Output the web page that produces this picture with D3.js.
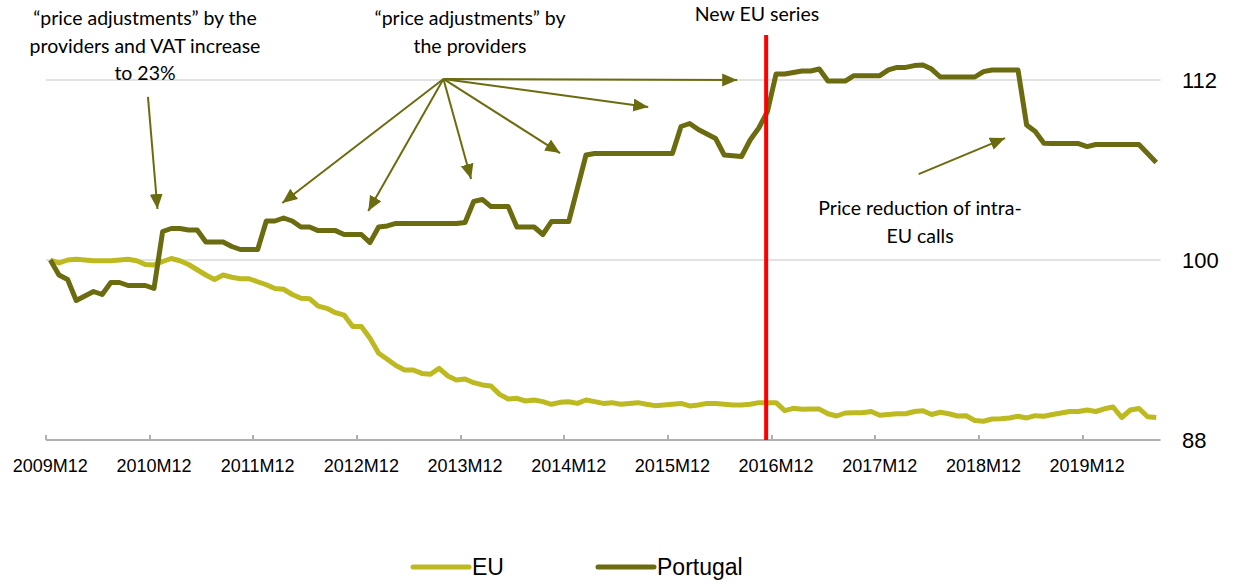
<!DOCTYPE html>
<html>
<head>
<meta charset="utf-8">
<script src="https://cdn.jsdelivr.net/npm/d3@7"></script>
<style>
  body { margin: 0; background: #fff; }
  svg text { font-family: 'Liberation Sans', Arial, sans-serif; }
  .note { font-family: Lato, 'Open Sans', sans-serif; font-size: 19.5px; fill: #000; }
</style>
</head>
<body>
<div id="chart"></div>
<script>
// monthly index, 2009M12 = 100
var tickLabels = ['2009M12','2010M12','2011M12','2012M12','2013M12','2014M12',
                  '2015M12','2016M12','2017M12','2018M12','2019M12']
var yTicks = [88, 100, 112]

var euValues = [
  100, 99.8, 100.0, 100.05, 100.0, 99.95, 99.95, 99.95, 100.0, 100.05, 99.95, 99.7,
  99.67, 99.9, 100.1, 99.95, 99.7, 99.35, 99.0, 98.7, 99.0, 98.85, 98.75, 98.75,
  98.55, 98.35, 98.1, 98.05, 97.7, 97.45, 97.42, 96.93, 96.78, 96.49, 96.33, 95.56,
  95.56, 94.78, 93.78, 93.38, 92.96, 92.67, 92.67, 92.44, 92.38, 92.78, 92.27, 92.0,
  92.07, 91.82, 91.67, 91.6, 91.04, 90.73, 90.78, 90.6, 90.67, 90.56, 90.38, 90.51,
  90.55, 90.44, 90.67, 90.56, 90.44, 90.49, 90.38, 90.44, 90.49, 90.38, 90.29, 90.33,
  90.38, 90.44, 90.27, 90.33, 90.44, 90.44, 90.38, 90.33, 90.33, 90.38, 90.49, 90.49,
  90.49, 89.96, 90.11, 90.05, 90.06, 90.06, 89.75, 89.6, 89.8, 89.82, 89.82, 89.9,
  89.65, 89.7, 89.75, 89.75, 89.9, 89.95, 89.7, 89.85, 89.75, 89.6, 89.62, 89.3,
  89.25, 89.4, 89.42, 89.47, 89.58, 89.47, 89.62, 89.58, 89.7, 89.8, 89.9, 89.9,
  90.0, 89.9, 90.08, 90.2, 89.5, 90.0, 90.1, 89.55, 89.5
]

var ptValues = [
  100, 99.0, 98.7, 97.3, 97.6, 97.9, 97.7, 98.5, 98.5, 98.3, 98.3, 98.3,
  98.1, 101.9, 102.1, 102.1, 102.0, 102.0, 101.2, 101.2, 101.2, 100.9, 100.7, 100.7,
  100.7, 102.6, 102.6, 102.8, 102.6, 102.2, 102.2, 101.96, 101.96, 101.96, 101.7, 101.7,
  101.7, 101.16, 102.2, 102.27, 102.44, 102.44, 102.44, 102.44, 102.44, 102.44, 102.44, 102.44,
  102.5, 103.9, 104.04, 103.56, 103.56, 103.56, 102.2, 102.2, 102.2, 101.7, 102.56, 102.56,
  102.56, 104.78, 107.0, 107.1, 107.1, 107.1, 107.1, 107.1, 107.1, 107.1, 107.1, 107.1,
  107.1, 108.9, 109.1, 108.7, 108.4, 108.1, 107.0, 106.95, 106.9, 108.0, 108.8, 109.9,
  112.4, 112.4, 112.5, 112.6, 112.6, 112.73, 111.93, 111.93, 111.93, 112.29, 112.29, 112.29,
  112.29, 112.67, 112.84, 112.84, 112.96, 113.0, 112.73, 112.2, 112.2, 112.2, 112.2, 112.2,
  112.56, 112.67, 112.67, 112.67, 112.67, 109.0, 108.56, 107.78, 107.76, 107.76, 107.76, 107.76,
  107.56, 107.7, 107.7, 107.7, 107.7, 107.7, 107.7, 107.1, 106.5
]

// where the new EU series starts (month index)
var newSeriesAt = 82.85

// annotation arrows in data units: [fromMonth, fromValue, toMonth, toValue]
var arrows = [
  [11.3, 110.87, 12.4, 103.4],
  [45.5, 112.07, 26.85, 103.8],
  [45.5, 112.07, 36.8, 103.27],
  [45.5, 112.07, 48.7, 105.4],
  [45.5, 112.07, 59.0, 107.13],
  [45.5, 112.07, 69.2, 110.2],
  [45.5, 112.07, 79.5, 112.0],
  [100.5, 105.73, 110.5, 108.13]
]

var euColor = '#bdb920'
var ptColor = '#6b6b10'

var W = 1238, H = 584
var n = ptValues.length
var step = 8.64
var x0 = 46

var xScale = d3.scaleLinear()
  .domain([-0.5, n - 0.5])
  .range([x0, x0 + n * step])
var yScale = d3.scaleLinear()
  .domain([88, 112])
  .range([440, 80])

var svg = d3.select('#chart').append('svg')
  .attr('width', W)
  .attr('height', H)

var defs = svg.append('defs')
defs.append('marker')
  .attr('id', 'head')
  .attr('markerUnits', 'userSpaceOnUse')
  .attr('markerWidth', 16)
  .attr('markerHeight', 14)
  .attr('refX', 15)
  .attr('refY', 6.5)
  .attr('orient', 'auto')
  .append('path')
  .attr('d', 'M0,0 L15,6.5 L0,13 Z')
  .attr('fill', ptColor)

// gridlines
svg.append('g').selectAll('line')
  .data(yTicks.filter(function (d) { return d > 88 }))
  .enter().append('line')
  .attr('x1', xScale.range()[0])
  .attr('x2', xScale.range()[1])
  .attr('y1', function (d) { return yScale(d) })
  .attr('y2', function (d) { return yScale(d) })
  .attr('stroke', '#d9d9d9')
  .attr('stroke-width', 1.5)

// bottom axis, ticks between categories
var tickIdx = tickLabels.map(function (d, i) { return i * 12 })
var xAxis = svg.append('g')
xAxis.append('line')
  .attr('x1', xScale.range()[0])
  .attr('x2', xScale.range()[1])
  .attr('y1', yScale(88))
  .attr('y2', yScale(88))
  .attr('stroke', '#b0b0b0')
  .attr('stroke-width', 2)
xAxis.selectAll('.tick')
  .data(tickIdx)
  .enter().append('line')
  .attr('x1', function (d) { return Math.round(xScale(d - 0.5)) })
  .attr('x2', function (d) { return Math.round(xScale(d - 0.5)) })
  .attr('y1', yScale(88) - 5)
  .attr('y2', yScale(88))
  .attr('stroke', '#b0b0b0')
  .attr('stroke-width', 2)
xAxis.selectAll('text')
  .data(tickLabels)
  .enter().append('text')
  .attr('x', function (d, i) { return xScale(tickIdx[i]) })
  .attr('y', 472)
  .attr('text-anchor', 'middle')
  .style('font-size', '18px')
  .text(function (d) { return d })

// right axis labels
svg.append('g').selectAll('text')
  .data(yTicks)
  .enter().append('text')
  .attr('x', 1182)
  .attr('y', function (d) { return yScale(d) })
  .attr('dy', '0.36em')
  .style('font-size', '22px')
  .text(function (d) { return d })

// series
var line = d3.line()
  .x(function (d, i) { return xScale(i) })
  .y(function (d) { return yScale(d) })

svg.append('path')
  .datum(euValues)
  .attr('d', line)
  .attr('fill', 'none')
  .attr('stroke', euColor)
  .attr('stroke-width', 5)
  .attr('stroke-linejoin', 'round')

svg.append('path')
  .datum(ptValues)
  .attr('d', line)
  .attr('fill', 'none')
  .attr('stroke', ptColor)
  .attr('stroke-width', 5)
  .attr('stroke-linejoin', 'round')

// new EU series marker
svg.append('line')
  .attr('x1', xScale(newSeriesAt))
  .attr('x2', xScale(newSeriesAt))
  .attr('y1', 35)
  .attr('y2', yScale(88))
  .attr('stroke', '#ff0000')
  .attr('stroke-width', 4)

// arrows
svg.append('g').selectAll('line')
  .data(arrows)
  .enter().append('line')
  .attr('x1', function (d) { return xScale(d[0]) })
  .attr('y1', function (d) { return yScale(d[1]) })
  .attr('x2', function (d) { return xScale(d[2]) })
  .attr('y2', function (d) { return yScale(d[3]) })
  .attr('stroke', ptColor)
  .attr('stroke-width', 2)
  .attr('marker-end', 'url(#head)')

// notes
function note(lines, cx, y0) {
  var t = svg.append('text')
    .attr('class', 'note')
    .attr('text-anchor', 'middle')
  lines.forEach(function (s, i) {
    t.append('tspan')
      .attr('x', cx)
      .attr('y', y0 + i * 27.5)
      .text(s)
  })
}
note(['\u201cprice adjustments\u201d by the', 'providers and VAT increase', 'to 23%'], 145, 25)
note(['\u201cprice adjustments\u201d by', 'the providers'], 470, 25)
note(['New EU series'], 757, 21)
note(['Price reduction of intra-', 'EU calls'], 920, 215)

// legend
var legend = svg.append('g')
var items = [{ name: 'EU', color: euColor, x: 413 }, { name: 'Portugal', color: ptColor, x: 598 }]
legend.selectAll('line')
  .data(items)
  .enter().append('line')
  .attr('x1', function (d) { return d.x })
  .attr('x2', function (d) { return d.x + 56 })
  .attr('y1', 567)
  .attr('y2', 567)
  .attr('stroke', function (d) { return d.color })
  .attr('stroke-width', 5)
  .attr('stroke-linecap', 'round')
legend.selectAll('text')
  .data(items)
  .enter().append('text')
  .attr('x', function (d) { return d.x + 59 })
  .attr('y', 575)
  .style('font-size', '23px')
  .text(function (d) { return d.name })
</script>
</body>
</html>
